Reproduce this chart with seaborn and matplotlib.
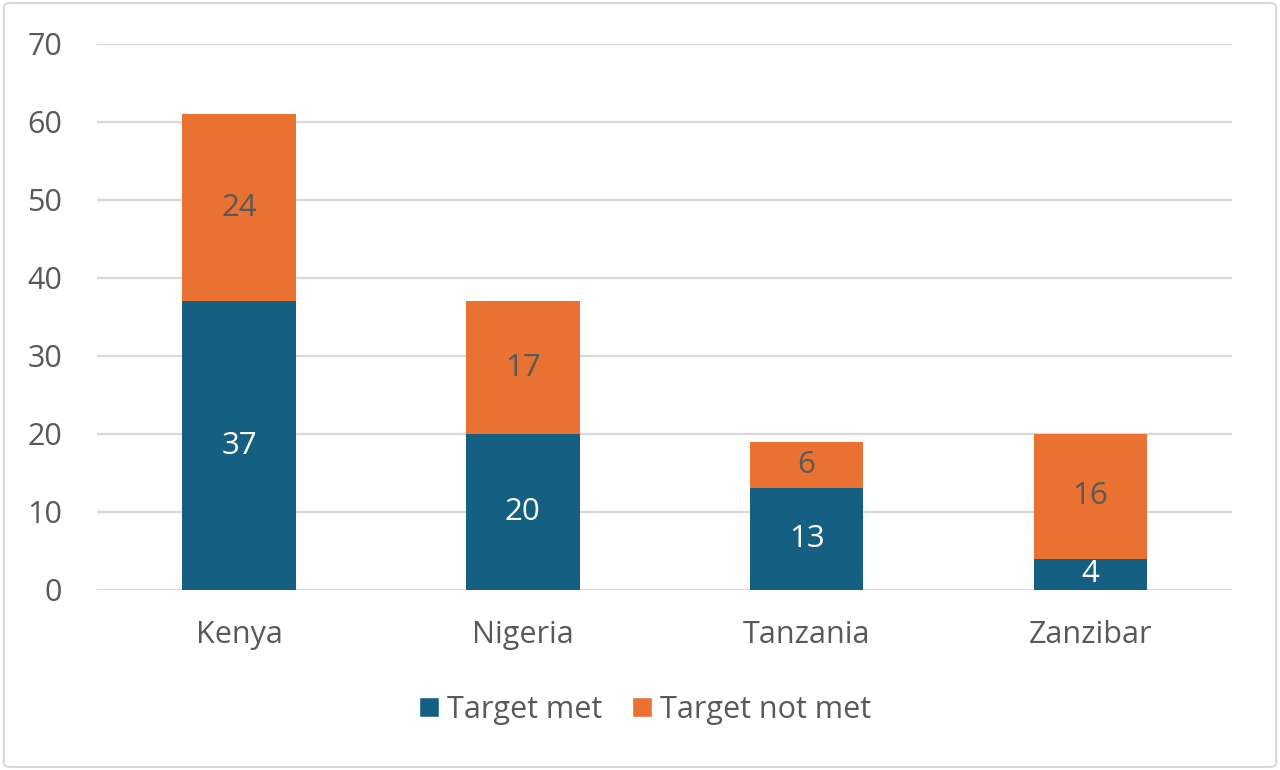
import pandas as pd
import seaborn as sns
import matplotlib.pyplot as plt
from matplotlib.patches import Patch, FancyBboxPatch

countries = ['Kenya', 'Nigeria', 'Tanzania', 'Zanzibar']
target_met = [37, 20, 13, 4]
target_not_met = [24, 17, 6, 16]

blue = '#156082'
orange = '#E97132'
grey_text = '#595959'

df = pd.DataFrame({'country': countries, 'met': target_met, 'not_met': target_not_met})
df['total'] = df['met'] + df['not_met']

sns.set_style('white')
plt.rcParams['font.family'] = ['Open Sans', 'DejaVu Sans']

fig = plt.figure(figsize=(12.8, 7.7), dpi=100)
ax = fig.add_axes([0.0758, 0.234, 0.887, 0.709])

# stacked: draw totals first, then the lower part on top
sns.barplot(data=df, x='country', y='total', color=orange, width=0.4,
            saturation=1, linewidth=0, ax=ax, zorder=3)
sns.barplot(data=df, x='country', y='met', color=blue, width=0.4,
            saturation=1, linewidth=0, ax=ax, zorder=3)

ax.bar_label(ax.containers[1], labels=[str(v) for v in df['met']],
             label_type='center', color='white', fontsize=22.5, zorder=4)
for i, row in df.iterrows():
    ax.text(i, row['met'] + row['not_met'] / 2, str(row['not_met']),
            ha='center', va='center', color=grey_text, fontsize=22.5, zorder=4)

ax.set_ylim(0, 70)
ax.set_xlim(-0.5, 3.5)
ax.set_yticks(range(0, 71, 10))
ax.yaxis.grid(True, color='#d9d9d9', linewidth=1.6, zorder=0)
ax.set_axisbelow(True)
for s in ax.spines.values():
    s.set_visible(False)
ax.set_xlabel('')
ax.set_ylabel('')
ax.tick_params(axis='both', length=0, labelsize=22, colors=grey_text)
ax.tick_params(axis='y', pad=25)
ax.tick_params(axis='x', pad=22)

handles = [Patch(facecolor=blue, label='Target met'),
           Patch(facecolor=orange, label='Target not met')]
fig.legend(handles=handles, loc='center', bbox_to_anchor=(0.504, 0.078), ncol=2,
           frameon=False, fontsize=22, handlelength=0.65, handleheight=0.65,
           handletextpad=0.25, columnspacing=1.0, labelcolor=grey_text)

border = FancyBboxPatch((0.003, 0.004), 0.994, 0.992, boxstyle='round,pad=0,rounding_size=0.005',
                        transform=fig.transFigure, fill=False, edgecolor='#d9d9d9',
                        linewidth=1.5)
fig.patches.append(border)

fig.savefig('out.png', dpi=100)
